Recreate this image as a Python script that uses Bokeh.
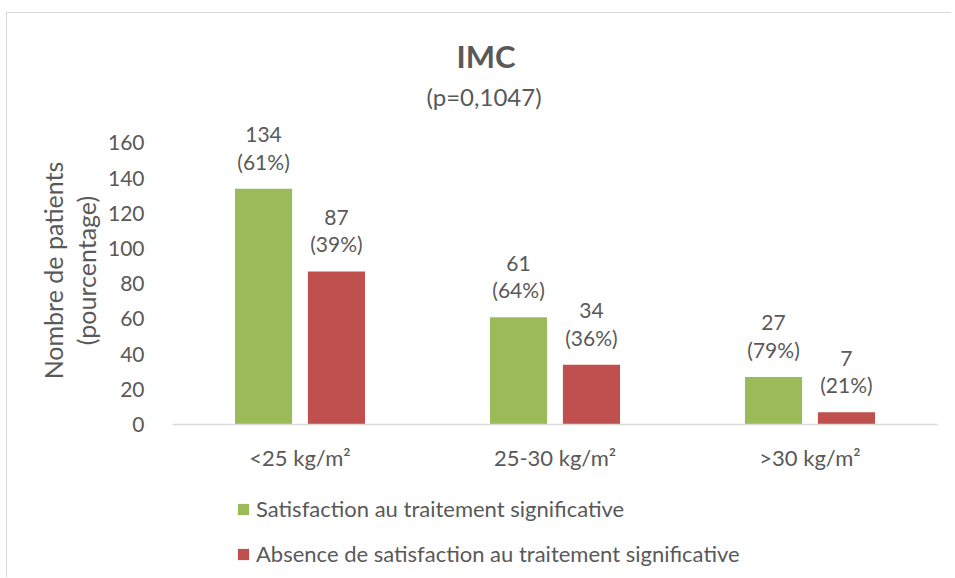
from bokeh.plotting import figure
from bokeh.layouts import column
from bokeh.models import (ColumnDataSource, FactorRange, Legend, LegendItem, Range1d,
                          FixedTicker, Title, LinearAxis)
from bokeh.transform import dodge
from bokeh.core.properties import value
from bokeh.embed import file_html
from bokeh.resources import INLINE

# ---- data ----
categories = ["<25 kg/m²", "25-30 kg/m²", ">30 kg/m²"]
satisfied = [134, 61, 27]
satisfied_pct = [61, 64, 79]
not_satisfied = [87, 34, 7]
not_satisfied_pct = [39, 36, 21]
y_ticks = [0, 20, 40, 60, 80, 100, 120, 140, 160]
series_names = ["Satisfaction au traitement significative",
                "Absence de satisfaction au traitement significative"]
title_text = "IMC"
subtitle_text = "(p=0,1047)"
y_label_outer = "Nombre de patients"
y_label_inner = "(pourcentage)"

FONT = "Lato"
TXT = "#595959"
GREEN = "#9BBB59"
RED = "#C0504D"

src = ColumnDataSource(dict(
    cat=categories,
    s=satisfied,
    n=not_satisfied,
    s_lab=[f"{v}\n({q}%)" for v, q in zip(satisfied, satisfied_pct)],
    n_lab=[f"{v}\n({q}%)" for v, q in zip(not_satisfied, not_satisfied_pct)],
))

# ---------------- main chart ----------------
p = figure(x_range=FactorRange(*categories, range_padding=0),
           y_range=Range1d(0, 175),
           width=944, height=467,
           output_backend="svg", toolbar_location=None,
           min_border_left=165, min_border_right=14,
           min_border_top=103, min_border_bottom=56)
p.outline_line_color = None
p.xgrid.grid_line_color = None
p.ygrid.grid_line_color = None

off = 0.143
bw = 0.224
r1 = p.vbar(x=dodge("cat", -off, range=p.x_range), top="s", width=bw,
            source=src, fill_color=GREEN, line_color=None)
r2 = p.vbar(x=dodge("cat", off, range=p.x_range), top="n", width=bw,
            source=src, fill_color=RED, line_color=None)

for col, lab, d in [("s", "s_lab", -off), ("n", "n_lab", off)]:
    p.text(x=dodge("cat", d, range=p.x_range), y=col, text=lab, source=src,
           text_align="center", text_baseline="bottom", y_offset=-15,
           text_font=value(FONT), text_font_size="21px", text_color=TXT,
           text_line_height=1.1)

# y axis (inner label line)
p.yaxis.ticker = FixedTicker(ticks=y_ticks)
p.yaxis.axis_line_color = None
p.yaxis.major_tick_line_color = None
p.yaxis.minor_tick_line_color = None
p.yaxis.major_label_standoff = 22
p.yaxis.major_label_text_font = FONT
p.yaxis.major_label_text_font_size = "21px"
p.yaxis.major_label_text_color = TXT
p.yaxis.axis_label = y_label_inner
p.yaxis.axis_label_standoff = 4
p.yaxis.axis_label_text_font = FONT
p.yaxis.axis_label_text_font_size = "25px"
p.yaxis.axis_label_text_font_style = "normal"
p.yaxis.axis_label_text_color = TXT

# second left axis carrying the outer label line
ax2 = LinearAxis(ticker=FixedTicker(ticks=[]), axis_label=y_label_outer,
                 axis_line_color=None, major_tick_line_color=None,
                 minor_tick_line_color=None, major_label_standoff=0,
                 major_tick_out=0, axis_label_standoff=0,
                 axis_label_text_font=FONT, axis_label_text_font_size="25px",
                 axis_label_text_font_style="normal", axis_label_text_color=TXT)
p.add_layout(ax2, "left")

p.xaxis.axis_line_color = "#D9D9D9"
p.xaxis.axis_line_width = 1.5
p.xaxis.major_tick_line_color = None
p.xaxis.minor_tick_line_color = None
p.xaxis.major_label_standoff = 13
p.xaxis.major_label_text_font = FONT
p.xaxis.major_label_text_font_size = "22px"
p.xaxis.major_label_text_color = TXT

# titles (the later-added title sits nearer to the plot)
p.title = Title(text=title_text, align="left", offset=284, standoff=0,
                text_font=FONT, text_font_size="31px", text_font_style="bold",
                text_color=TXT)
p.add_layout(Title(text=subtitle_text, align="left", offset=254, standoff=11,
                   text_font=FONT, text_font_size="24px", text_font_style="normal",
                   text_color=TXT), "above")

# ---------------- legend strip ----------------
# legend proxies: hidden zero-height bars, only the legend of this strip shows
q = figure(x_range=FactorRange(*categories, range_padding=0),
           y_range=Range1d(-2, -1),
           width=944, height=97, output_backend="svg", toolbar_location=None,
           min_border_left=0, min_border_right=0, min_border_top=0,
           min_border_bottom=0)
q.axis.visible = False
q.grid.visible = False
q.outline_line_color = None
g1 = q.vbar(x="cat", top="s", bottom="s", width=bw, source=src,
            fill_color=GREEN, line_color=None)
g2 = q.vbar(x="cat", top="n", bottom="n", width=bw, source=src,
            fill_color=RED, line_color=None)
g1.visible = False
g2.visible = False

legend = Legend(items=[LegendItem(label=series_names[0], renderers=[g1]),
                       LegendItem(label=series_names[1], renderers=[g2])],
                location=(64, 10), orientation="vertical",
                glyph_width=14, glyph_height=14, label_standoff=6,
                padding=0, margin=0, spacing=18, label_height=24,
                border_line_color=None, background_fill_alpha=0,
                inactive_fill_alpha=0,
                label_text_font=FONT, label_text_font_size="22px",
                label_text_color=TXT)
q.add_layout(legend)

layout = column(p, q, spacing=0)
layout.styles = {"margin-top": "12px", "margin-left": "6px",
                 "border-top": "1px solid #D9D9D9",
                 "border-left": "1px solid #D9D9D9"}

open("out.html", "w").write(file_html(layout, INLINE))
